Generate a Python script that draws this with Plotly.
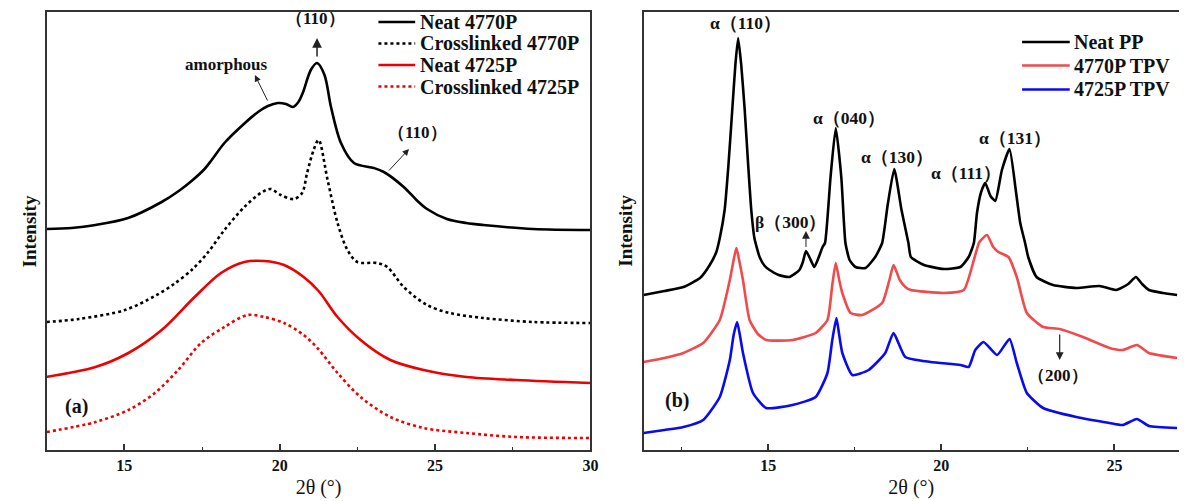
import plotly.graph_objects as go

# ---------------- Panel (a) data: 2theta (deg) vs intensity (a.u.) ----------------
a_neat4770_x = [12.5, 13.3, 14.07, 15.12, 16.2, 16.75, 17.2, 17.58, 17.81, 18.22, 18.88, 19.3, 19.62, 19.94,
                20.2, 20.42, 20.6, 20.74, 21.0, 21.2, 21.44, 21.65, 21.97, 22.39, 23.03, 23.35, 23.99, 24.4,
                24.74, 25.38, 26.0, 26.55, 28.15, 30.0]
a_neat4770_y = [221, 222, 225, 232, 248, 259, 270, 281, 290, 307, 327, 338, 344, 347,
                346, 343, 348, 357, 380, 387, 375, 343, 307, 287, 282, 278, 263, 250,
                241, 231, 227, 225, 221, 220]

a_cl4770_x = [12.5, 13.53, 15.02, 15.98, 16.6, 17.2, 17.7, 18.22, 18.86, 19.39, 19.71, 20.03, 20.46, 20.72, 20.88,
              21.09, 21.25, 21.54, 21.86, 22.18, 22.5, 23.14, 23.46, 23.99, 24.74, 25.47, 26.55, 28.15, 30.0]
a_cl4770_y = [128, 131, 140, 154, 166, 181, 198, 220, 243, 257, 261, 255, 251, 257, 277,
              300, 310, 270, 227, 200, 188, 187, 183, 163, 145, 137, 132, 128, 127]

a_neat4725_x = [12.47, 14.07, 15.13, 16.2, 17.26, 18.11, 18.86, 19.5, 20.14, 20.77, 21.25, 21.86, 22.6,
                23.56, 24.63, 26.01, 27.61, 30.0]
a_neat4725_y = [73, 83, 97, 120, 153, 177, 188, 189, 185, 173, 159, 133, 110, 90, 80, 73, 70, 67]

a_cl4725_x = [12.5, 14.07, 15.13, 15.98, 16.73, 17.47, 18.22, 18.96, 19.5, 20.14, 20.77, 21.24, 21.86, 22.6,
              23.56, 24.63, 26.01, 27.61, 30.0]
a_cl4725_y = [18, 28, 40, 57, 80, 107, 123, 135, 133, 127, 115, 101, 77, 53, 33, 22, 17, 13, 12]

# ---------------- Panel (b) data ----------------
b_pp_x = [11.4, 12.0, 12.55, 13.03, 13.31, 13.5, 13.6, 13.74, 13.85, 13.96, 14.05, 14.13, 14.22, 14.32, 14.42,
          14.51, 14.6, 14.75, 14.9, 15.04, 15.3, 15.61, 15.9, 16.0, 16.09, 16.2, 16.33, 16.45, 16.57, 16.64,
          16.8, 16.95, 17.11, 17.23, 17.35, 17.52, 17.81, 18.09, 18.29, 18.45, 18.64, 18.85, 19.05, 19.12,
          19.5, 20.07, 20.55, 20.79, 20.94, 21.03, 21.15, 21.27, 21.42, 21.56, 21.75, 21.97, 22.15, 22.28,
          22.42, 22.51, 22.75, 23.23, 23.9, 24.57, 25.05, 25.4, 25.62, 25.8, 26.0, 26.4, 26.81]
b_pp_y = [155, 159, 163, 172, 185, 198, 212, 240, 285, 340, 385, 412, 385, 340, 285,
          240, 212, 193, 184, 180, 175, 173, 180, 188, 199, 192, 183, 192, 203, 207,
          273, 322, 273, 207, 190, 183, 182, 193, 207, 245, 281, 240, 207, 193,
          185, 181, 183, 193, 207, 237, 258, 267, 254, 249, 280, 301, 260, 227,
          207, 193, 173, 165, 162, 164, 160, 166, 173, 166, 160, 157, 155]

b_4770_x = [11.4, 12.0, 12.55, 13.12, 13.6, 13.89, 14.0, 14.08, 14.17, 14.27, 14.46, 14.7, 14.94, 15.7, 16.37,
            16.71, 16.85, 16.95, 17.05, 17.14, 17.38, 17.71, 18.29, 18.5, 18.62, 18.8, 18.96, 19.12, 20.07,
            20.65, 20.94, 21.1, 21.32, 21.5, 21.65, 21.94, 22.18, 22.47, 22.94, 23.42, 24.09, 24.86, 25.24,
            25.65, 26.0, 26.81]
b_4770_y = [88, 92, 97, 107, 130, 170, 190, 202, 188, 170, 130, 116, 110, 110, 117,
            130, 165, 187, 170, 157, 137, 135, 147, 170, 185, 170, 163, 160, 157,
            160, 190, 208, 215, 203, 198, 193, 173, 137, 123, 121, 113, 102, 100,
            105, 97, 92]

b_4725_x = [11.4, 12.0, 12.55, 13.12, 13.6, 13.89, 14.0, 14.1, 14.18, 14.27, 14.56, 14.94, 15.7, 16.37, 16.71,
            16.85, 16.97, 17.05, 17.14, 17.43, 17.9, 18.38, 18.62, 18.96, 19.69, 20.55, 20.79, 20.98, 21.22,
            21.61, 21.97, 22.18, 22.47, 22.94, 23.9, 24.86, 25.24, 25.65, 26.0, 26.81]
b_4725_y = [17, 20, 23, 30, 53, 90, 115, 128, 115, 97, 57, 42, 45, 53, 77,
            110, 132, 115, 97, 75, 80, 97, 117, 93, 88, 85, 83, 100, 108,
            95, 111, 87, 57, 42, 33, 27, 25, 31, 24, 22]

x_tick_vals = [15, 20, 25, 30]

SERIF = "Liberation Serif, Times New Roman, serif"
RED_A = "#ee0000"
RED_B = "#f04a4a"
BLUE_B = "#0a0af0"

fig = go.Figure()

def add(x, y, name, color, dash, xa, ya, smooth):
    fig.add_trace(go.Scatter(
        x=x, y=y, name=name, mode="lines", xaxis=xa, yaxis=ya, showlegend=False,
        line=dict(color=color, width=2.6, dash=dash, shape="spline", smoothing=smooth)))

series_a = [
    (a_neat4770_x, a_neat4770_y, "Neat 4770P", "black", "solid"),
    (a_cl4770_x, a_cl4770_y, "Crosslinked 4770P", "black", "dot"),
    (a_neat4725_x, a_neat4725_y, "Neat 4725P", RED_A, "solid"),
    (a_cl4725_x, a_cl4725_y, "Crosslinked 4725P", RED_A, "dot"),
]
series_b = [
    (b_pp_x, b_pp_y, "Neat PP", "black", "solid"),
    (b_4770_x, b_4770_y, "4770P TPV", RED_B, "solid"),
    (b_4725_x, b_4725_y, "4725P TPV", BLUE_B, "solid"),
]
for x, y, n, c, d in series_a:
    add(x, y, n, c, d, "x", "y", 0.9)
for x, y, n, c, d in series_b:
    add(x, y, n, c, d, "x2", "y2", 0.5)

W, H = 1187, 501
y_dom = [51 / H, 489 / H]

def xaxis_cfg():
    return dict(
        showline=True, linecolor="#333", linewidth=1.5,
        ticks="inside", ticklen=6, tickwidth=1.5, tickcolor="#333",
        showgrid=False, zeroline=False,
        tickmode="array", tickvals=x_tick_vals, ticktext=["<b>%d</b>" % v for v in x_tick_vals],
        tickfont=dict(family=SERIF, size=16, color="#111"),
        minor=dict(ticks="inside", ticklen=3.5, tickwidth=1.2, tickcolor="#333", dtick=2.5, tick0=0,
                   showgrid=False),
        title=dict(text="2θ (°)", font=dict(family=SERIF, size=20, color="#111"), standoff=7),
        mirror=True,
    )

yaxis_common = dict(showline=True, linecolor="#333", linewidth=1.5, showticklabels=False, ticks="",
                    showgrid=False, zeroline=False, range=[0, 438])

fig.update_layout(
    width=W, height=H,
    margin=dict(l=0, r=0, t=0, b=0),
    paper_bgcolor="white", plot_bgcolor="white",
    xaxis=dict(domain=[47 / W, 594.5 / W], range=[12.5, 30], anchor="y", **xaxis_cfg()),
    yaxis=dict(domain=y_dom, anchor="x", mirror=True, **yaxis_common),
    xaxis2=dict(domain=[648 / W, 1.0], range=[11.4, 11.4 + 539 / 34.85], anchor="y2", **xaxis_cfg()),
    yaxis2=dict(domain=y_dom, anchor="x2", mirror=False, **yaxis_common),
    showlegend=False,
)

annotations = []
shapes = []

# ---- manual legends (paper pixel positions) ----
def legend(entries, x0, x1, xt, rows, size):
    for (xv, yv, name, color, dash), ry in zip(entries, rows):
        yp = 1 - ry / H
        shapes.append(dict(type="line", xref="paper", yref="paper", x0=x0 / W, x1=x1 / W, y0=yp, y1=yp,
                           line=dict(color=color, width=2.6, dash=dash)))
        annotations.append(dict(xref="paper", yref="paper", x=xt / W, y=yp, xanchor="left", yanchor="middle",
                                text="<b>%s</b>" % name, showarrow=False,
                                font=dict(family=SERIF, size=size, color="#111")))

legend(series_a, 381, 418, 421, [22, 43.5, 65, 86.5], 20)
legend(series_b, 1029, 1077, 1079, [42, 65.5, 89.5], 20)

def text(xref, yref, x, y, s, size=17):
    annotations.append(dict(xref=xref, yref=yref, x=x, y=y, text="<b>%s</b>" % s, showarrow=False,
                            font=dict(family=SERIF, size=size, color="#111")))

def arrow(xref, yref, x0, y0, x1, y1, head=2, w=1.0, color="#222"):
    annotations.append(dict(xref=xref, yref=yref, axref=xref, ayref=yref, x=x1, y=y1, ax=x0, ay=y0,
                            text="", showarrow=True, arrowhead=head, arrowsize=1.3, arrowwidth=w,
                            arrowcolor=color))

# Panel (a) annotations
text("x", "y", 21.16, 431, "（110）", 17)
arrow("x", "y", 21.2, 392, 21.2, 412, head=2, w=1.5)
text("x", "y", 18.29, 385, "amorphous", 17)
arrow("x", "y", 19.63, 348, 19.2, 375)
text("x", "y", 24.42, 317, "（110）", 17)
arrow("x", "y", 23.47, 278, 24.16, 301)
text("x", "y", 13.45, 44, "(a)", 20)

# Panel (b) annotations
text("x2", "y2", 14.33, 427, "α（110）", 17.5)
text("x2", "y2", 17.34, 332, "α（040）", 17.5)
text("x2", "y2", 18.72, 293, "α（130）", 17.5)
text("x2", "y2", 20.72, 277, "α（111）", 17.5)
text("x2", "y2", 22.13, 312, "α（131）", 17.5)
text("x2", "y2", 15.65, 228, "β（300）", 17.5)
shapes.append(dict(type="line", xref="x2", yref="y2", x0=16.09, x1=16.09, y0=203, y1=214,
                   line=dict(color="#222", width=1, dash="dash")))
arrow("x2", "y2", 16.09, 212, 16.09, 219, head=2, w=1.2)
text("x2", "y2", 23.37, 75, "（200）", 17)
arrow("x2", "y2", 23.42, 117, 23.42, 90, head=2, w=1.2)
text("x2", "y2", 12.35, 50, "(b)", 20)

# Y-axis titles
for xp in (18 / W, 630 / W):
    annotations.append(dict(xref="paper", yref="paper", x=xp, y=(y_dom[0] + y_dom[1]) / 2,
                            text="<b>Intensity</b>", textangle=-90, showarrow=False,
                            font=dict(family=SERIF, size=19, color="#111")))

fig.update_layout(annotations=annotations, shapes=shapes)
fig.write_html("out.html")
